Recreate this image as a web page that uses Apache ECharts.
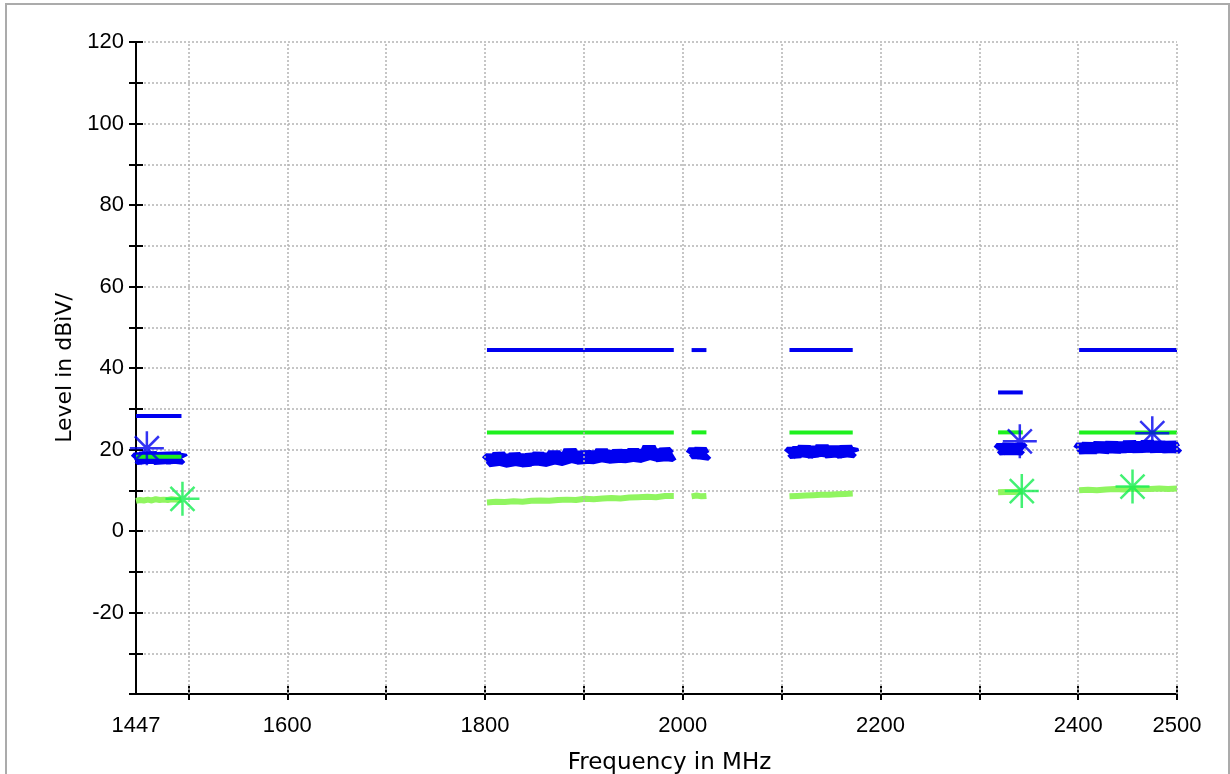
<!DOCTYPE html>
<html>
<head>
<meta charset="utf-8">
<script src="https://cdn.jsdelivr.net/npm/echarts@6/dist/echarts.min.js"></script>
<style>
html,body{margin:0;padding:0;background:#fff;}
#chart{width:1230px;height:774px;}
</style>
</head>
<body>
<div id="chart"></div>
<script>
// ---- Data ----
const freqLabelValues = [1447, 1600, 1800, 2000, 2200, 2400, 2500];
const freqTickValues = [1500, 1600, 1700, 1800, 1900, 2000, 2100, 2200, 2300, 2400, 2500];
const levelLabelValues = [-20, 0, 20, 40, 60, 80, 100, 120];

// limit lines: [startMHz, endMHz, level]
const peakLimitSegments = [[1447,1493,28.2],[1802,1991,44.4],[2009,2024,44.4],[2108,2172,44.4],[2319,2344,34.0],[2401,2500,44.4]];
const avgLimitSegments  = [[1447,1493,18.2],[1802,1991,24.2],[2009,2024,24.2],[2108,2172,24.2],[2319,2344,24.2],[2401,2500,24.2]];

// peak (blue) measured trace, per band
const peakFreqA = [1447,1450,1453,1456,1459,1462,1465,1468,1471,1474,1477,1480,1483,1486,1489,1492,1493];
const peakLevelA = [17.3,18.1,17.5,18.4,17.4,18.6,17.6,18.2,17.3,18.5,17.5,18.3,17.4,18.6,17.5,18.2,17.7];
const peakFreqB = [1802,1806,1810,1814,1818,1822,1826,1830,1834,1838,1842,1846,1850,1854,1858,1862,1866,1870,1874,1878,1882,1886,1890,1894,1898,1902,1906,1910,1914,1918,1922,1926,1930,1934,1938,1942,1946,1950,1954,1958,1962,1966,1970,1974,1978,1982,1986,1990];
const peakLevelB = [16.9,17.9,16.8,18.6,17.0,17.6,16.9,18.3,17.1,17.7,16.9,18.0,17.2,18.4,17.1,17.8,17.3,18.9,17.4,18.0,17.4,19.6,17.6,18.4,17.6,18.7,17.7,18.5,17.8,19.4,17.8,18.6,17.9,18.9,18.0,18.7,18.1,19.3,18.1,18.8,18.2,20.4,18.3,19.0,18.2,19.4,18.4,19.0];
const peakFreqC = [2009,2012,2015,2018,2021,2024];
const peakLevelC = [18.5,19.6,18.6,19.7,18.5,19.2];
const peakFreqD = [2108,2111,2114,2117,2120,2123,2126,2129,2132,2135,2138,2141,2144,2147,2150,2153,2156,2159,2162,2165,2168,2171,2172];
const peakLevelD = [18.7,19.6,18.8,19.9,18.9,20.4,18.8,19.7,18.9,20.1,18.9,20.6,19.0,19.8,18.9,20.2,19.0,19.7,18.9,20.3,19.0,19.8,19.1];
const peakFreqE = [2320,2323,2326,2329,2332,2335,2338,2341,2344];
const peakLevelE = [19.6,20.5,19.7,20.7,19.6,20.6,19.7,20.5,19.8];
const peakFreqF = [2401,2404,2407,2410,2413,2416,2419,2422,2425,2428,2431,2434,2437,2440,2443,2446,2449,2452,2455,2458,2461,2464,2467,2470,2473,2476,2479,2482,2485,2488,2491,2494,2497,2500];
const peakLevelF = [19.7,20.8,19.8,21.0,19.7,20.9,19.9,21.3,19.8,20.9,19.9,21.4,19.8,21.0,20.0,21.2,19.9,21.6,20.0,21.1,20.0,21.3,19.9,21.7,20.1,21.2,20.0,21.4,20.1,21.0,20.0,21.3,20.1,20.9];

// average (light green) measured trace, per band
const avgFreqA = [1447,1451,1455,1459,1463,1467,1471,1475,1479,1483,1487,1491,1493];
const avgLevelA = [7.4,7.6,7.5,7.7,7.5,7.8,7.6,7.7,7.6,7.8,7.7,7.6,7.7];
const avgFreqB = [1802,1811,1820,1829,1838,1847,1856,1865,1874,1883,1892,1901,1910,1919,1928,1937,1946,1955,1964,1973,1982,1991];
const avgLevelB = [7.0,7.2,7.1,7.3,7.2,7.4,7.5,7.4,7.6,7.7,7.6,7.9,7.8,8.0,8.1,8.0,8.2,8.3,8.4,8.3,8.6,8.6];
const avgFreqC = [2009,2014,2019,2024];
const avgLevelC = [8.5,8.7,8.5,8.6];
const avgFreqD = [2108,2116,2124,2132,2140,2148,2156,2164,2172];
const avgLevelD = [8.5,8.6,8.7,8.8,8.9,8.9,9.0,9.1,9.2];
const avgFreqE = [2319,2327,2335,2344];
const avgLevelE = [9.5,9.6,9.6,9.7];
const avgFreqF = [2401,2410,2419,2428,2437,2446,2455,2464,2473,2482,2491,2500];
const avgLevelF = [10.0,10.1,10.0,10.2,10.3,10.2,10.4,10.3,10.3,10.4,10.3,10.4];

// markers
const peakMarkerFreq = [1458, 2341, 2475];
const peakMarkerLevel = [20.3, 22.0, 24.0];
const avgMarkerFreq = [1494, 2343, 2455];
const avgMarkerLevel = [7.9, 9.8, 10.9];

// ---- Build ----
const BLUE = '#0000f0';
const GREEN = '#1ef01e';
const LIGHTGREEN = '#90f560';
const STARGREEN = '#14ee50';
const NAMEFONT = 'DejaVu Sans';
const TICKFONT = 'Liberation Sans';
const STAR = 'path://M0,-1L0,1M-1,0L1,0M-0.7071,-0.7071L0.7071,0.7071M-0.7071,0.7071L0.7071,-0.7071';

const zip = (xs, ys) => xs.map((x, i) => [x, ys[i]]);
const series = [];

// vertical dotted grid lines
series.push({
  type: 'line', data: [[1447, -100]], symbol: 'none', silent: true, z: 0,
  lineStyle: {opacity: 0},
  markLine: {
    silent: true, symbol: ['none', 'none'], label: {show: false},
    lineStyle: {type: [2, 2], color: '#b4b4b4', width: 1.5},
    emphasis: {disabled: true},
    data: freqTickValues.map(f => ({xAxis: f}))
  }
});

function addTrace(xs, ys, color, width, z) {
  series.push({type: 'line', data: zip(xs, ys), symbol: 'none', silent: true, z: z,
    lineStyle: {color: color, width: width, join: 'bevel', cap: 'butt'}});
}
[[avgFreqA, avgLevelA],[avgFreqB, avgLevelB],[avgFreqC, avgLevelC],[avgFreqD, avgLevelD],[avgFreqE, avgLevelE],[avgFreqF, avgLevelF]]
  .forEach(p => addTrace(p[0], p[1], LIGHTGREEN, 6, 2));
[[peakFreqA, peakLevelA],[peakFreqB, peakLevelB],[peakFreqC, peakLevelC],[peakFreqD, peakLevelD],[peakFreqE, peakLevelE],[peakFreqF, peakLevelF]]
  .forEach(p => addTrace(p[0], p[1], BLUE, 14, 3));
avgLimitSegments.forEach(s => addTrace([s[0], s[1]], [s[2], s[2]], GREEN, 4, 4));
peakLimitSegments.forEach(s => addTrace([s[0], s[1]], [s[2], s[2]], BLUE, 4, 4));

series.push({type: 'scatter', data: zip(peakMarkerFreq, peakMarkerLevel), symbol: STAR, symbolSize: 34, z: 6, silent: true,
  itemStyle: {color: 'rgba(0,0,0,0)', borderColor: BLUE, borderWidth: 2.5}});
series.push({type: 'scatter', data: zip(avgMarkerFreq, avgMarkerLevel), symbol: STAR, symbolSize: 34, z: 6, silent: true,
  itemStyle: {color: 'rgba(0,0,0,0)', borderColor: STARGREEN, borderWidth: 2.5}});

const axisLineStyle = {color: '#000', width: 2};
const plainNum = v => String(v);
const option = {
  animation: false,
  backgroundColor: '#fff',
  graphic: [{type: 'rect', shape: {x: 6, y: 4, width: 1223, height: 800}, style: {fill: 'none', stroke: '#ababab', lineWidth: 2}, silent: true}],
  grid: {left: 136, right: 53, top: 42, bottom: 80, containLabel: false, outerBoundsMode: 'none'},
  xAxis: [
    {type: 'value', min: 1447, max: 2500, position: 'bottom',
     axisLine: {show: true, lineStyle: axisLineStyle, onZero: false},
     axisTick: {show: true, inside: true, length: 8, customValues: freqTickValues, lineStyle: axisLineStyle},
     axisLabel: {customValues: freqLabelValues, formatter: plainNum, margin: 21, fontSize: 22, color: '#000', fontFamily: TICKFONT},
     splitLine: {show: false},
     name: 'Frequency in MHz', nameLocation: 'middle', nameGap: 58,
     nameTextStyle: {fontSize: 23, color: '#000', fontFamily: NAMEFONT, padding: [0, 0, 0, 26]}},
    {type: 'value', min: 1447, max: 2500, position: 'bottom',
     axisLine: {show: false, onZero: false},
     axisTick: {show: true, inside: false, length: 6, customValues: freqTickValues, lineStyle: axisLineStyle},
     axisLabel: {show: false}, splitLine: {show: false}}
  ],
  yAxis: [
    {type: 'value', min: -40, max: 120, interval: 10, position: 'left',
     axisLine: {show: true, lineStyle: axisLineStyle, onZero: false},
     axisTick: {show: true, inside: false, length: 7, lineStyle: axisLineStyle},
     axisLabel: {customValues: levelLabelValues, formatter: plainNum, margin: 12, fontSize: 22, color: '#000', fontFamily: TICKFONT},
     splitLine: {show: true, lineStyle: {type: [2, 2], color: '#b4b4b4', width: 1.5}},
     name: 'Level in dBìV/', nameLocation: 'middle', nameRotate: 90, nameGap: 60,
     nameTextStyle: {fontSize: 22, color: '#000', fontFamily: NAMEFONT}},
    {type: 'value', min: -40, max: 120, interval: 10, position: 'left',
     axisLine: {show: false, onZero: false},
     axisTick: {show: true, inside: true, length: 7, lineStyle: axisLineStyle},
     axisLabel: {show: false}, splitLine: {show: false}}
  ],
  series: series
};

const chart = echarts.init(document.getElementById('chart'), null, {renderer: 'canvas'});
chart.setOption(option);
</script>
</body>
</html>
